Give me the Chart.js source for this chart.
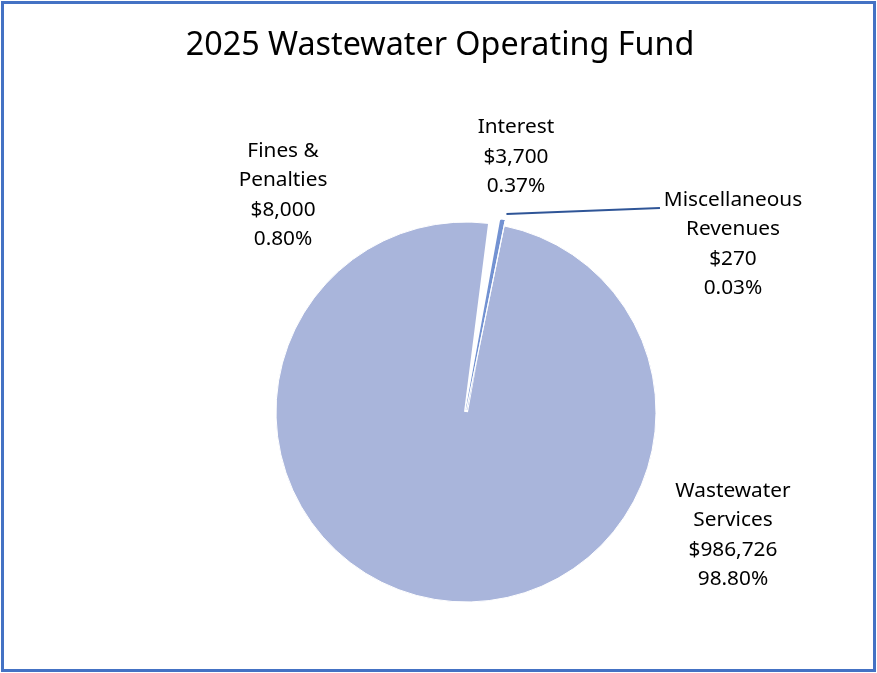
<!DOCTYPE html>
<html>
<head>
<meta charset="utf-8">
<script src="https://cdn.jsdelivr.net/npm/chart.js@4.4.1/dist/chart.umd.min.js"></script>
<style>
  html, body { margin: 0; padding: 0; background: #fff; }
  #frame {
    position: absolute; left: 1px; top: 1px;
    width: 869px; height: 665px;
    border: 3px solid #4472C4;
  }
  #wrap { position: absolute; left: 0; top: 0; width: 877px; height: 673px; }
</style>
</head>
<body>
<div id="frame"></div>
<div id="wrap"><canvas id="chart"></canvas></div>
<script>
const title = '2025 Wastewater Operating Fund';
const categories = ['Wastewater Services', 'Fines & Penalties', 'Interest', 'Miscellaneous Revenues'];
const labelLines = [['Wastewater', 'Services'], ['Fines &', 'Penalties'], ['Interest'], ['Miscellaneous', 'Revenues']];
const amounts = [986726, 8000, 3700, 270];
const percents = ['98.80%', '0.80%', '0.37%', '0.03%'];
const colors = ['#A9B5DB', '#FFFFFF', '#7392D2', '#C5CFEC'];
const edgeColors = ['#FFFFFF', '#FFFFFF', '#7392D2', '#FFFFFF'];

const fmt = n => '$' + n.toLocaleString('en-US');
const FONT = '"Noto Sans", "Open Sans", sans-serif';

// where each label sits, relative to pie centre (in radii)
const labelSpots = [
  { dx: 1.405, dy: 0.647 },
  { dx: -0.963, dy: -1.142 },
  { dx: 0.263, dy: -1.342 },
  { dx: 1.405, dy: -0.884 },
];

const labelsPlugin = {
  id: 'pieLabels',
  afterDraw(chart) {
    const ctx = chart.ctx;
    const meta = chart.getDatasetMeta(0);
    const cx = meta.data[0].x, cy = meta.data[0].y;
    const r = meta.data[0].outerRadius;

    ctx.save();
    // title
    ctx.fillStyle = '#000';
    ctx.font = '32.3px ' + FONT;
    ctx.textAlign = 'center';
    ctx.textBaseline = 'middle';
    ctx.fillText(title, 440, 46);

    ctx.font = '20.8px ' + FONT;
    const lh = 29.5;
    meta.data.forEach((arc, i) => {
      const lines = labelLines[i].concat([fmt(amounts[i]), percents[i]]);
      const x = cx + labelSpots[i].dx * r;
      const y = cy + labelSpots[i].dy * r;
      const y0 = y - (lines.length - 1) * lh / 2;
      lines.forEach((t, k) => ctx.fillText(t, x, y0 + k * lh));
    });

    // leader line for the tiny slice
    const misc = meta.data[3];
    const mid = (misc.startAngle + misc.endAngle) / 2;
    const sx = cx + Math.cos(mid) * (r + 12);
    const sy = cy + Math.sin(mid) * (r + 12);
    const ex = cx + labelSpots[3].dx * r - 73;
    const ey = cy + labelSpots[3].dy * r - 36;
    ctx.strokeStyle = '#2F5597';
    ctx.lineWidth = 2;
    ctx.beginPath();
    ctx.moveTo(sx, sy);
    ctx.lineTo(ex, ey);
    ctx.stroke();
    ctx.restore();
  }
};

new Chart(document.getElementById('chart'), {
  type: 'pie',
  data: {
    labels: categories,
    datasets: [{
      data: amounts,
      backgroundColor: colors,
      borderColor: edgeColors,
      borderWidth: [1, 4, 1.5, 1],
      offset: [0, 0, 10, 10],
    }]
  },
  options: {
    responsive: true,
    maintainAspectRatio: false,
    animation: false,
    rotation: 11.6,
    radius: 190,
    layout: { padding: { left: 266, right: 211, top: 212, bottom: 61 } },
    plugins: {
      legend: { display: false },
      tooltip: { enabled: false },
      title: { display: false },
    }
  },
  plugins: [labelsPlugin]
});
</script>
</body>
</html>
